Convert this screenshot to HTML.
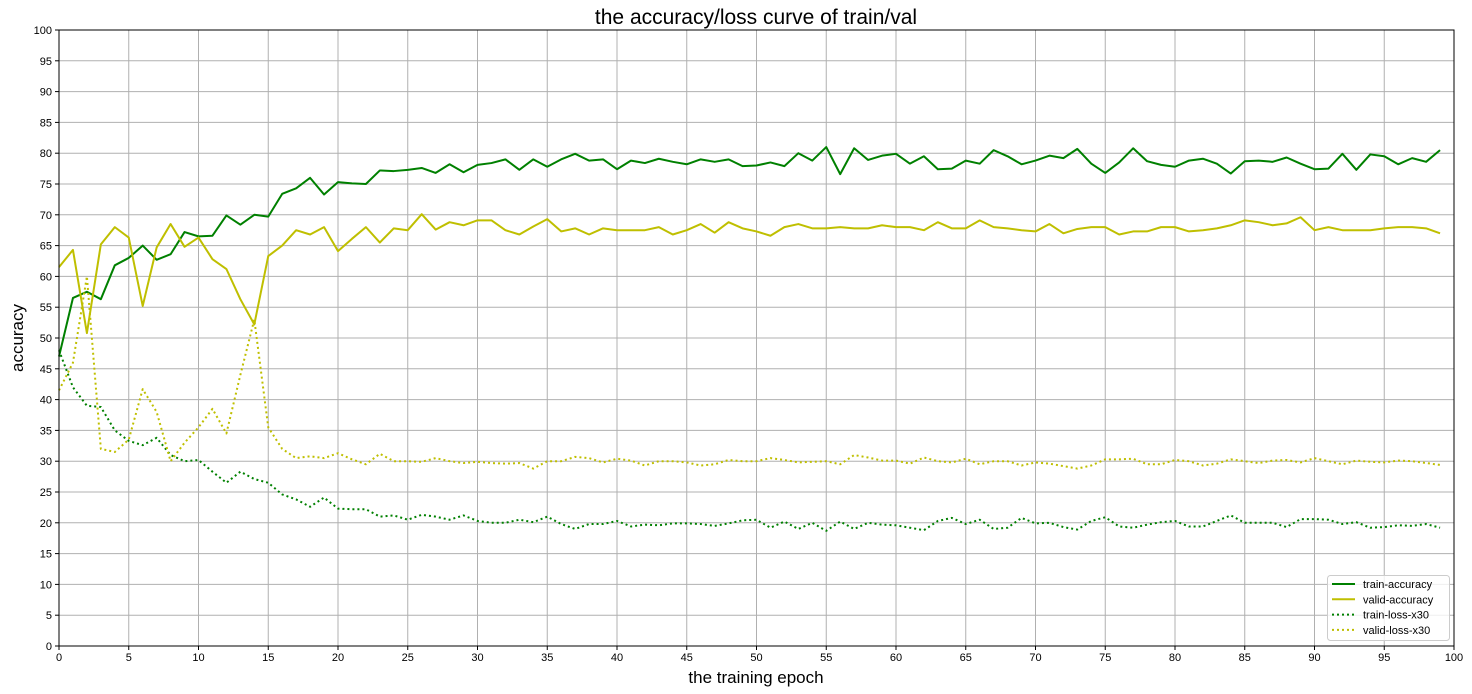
<!DOCTYPE html>
<html><head><meta charset="utf-8"><style>
body{margin:0;background:#fff;}
svg{display:block;font-family:"Liberation Sans","DejaVu Sans",sans-serif;}
</style></head><body>
<svg id="chart" width="1472" height="694">
<text x="756" y="24" font-size="21" text-anchor="middle">the accuracy/loss curve of train/val</text>
<text x="756" y="683" font-size="17" text-anchor="middle">the training epoch</text>
<text transform="translate(23,338) rotate(-90)" font-size="17" text-anchor="middle">accuracy</text>
<g id="grid"></g>
<g id="series"></g>
<rect x="59" y="30" width="1395" height="616" fill="none" stroke="#000" stroke-width="1"/>
<g id="ticks"></g>
<g id="legend"></g>
</svg>
<script>
const epochs = Array.from({length:100},(_,i)=>i);
const trainAcc = [47,56.5,57.5,56.3,61.8,63,65,62.7,63.6,67.2,66.5,66.6,69.9,68.4,70,69.7,73.4,74.3,76,73.3,75.3,75.1,75,77.2,77.1,77.3,77.6,76.8,78.2,76.9,78.1,78.4,79,77.3,79,77.8,79,79.9,78.8,79,77.4,78.8,78.4,79.1,78.6,78.2,79,78.6,79,77.9,78,78.5,77.9,80,78.8,81,76.6,80.8,78.9,79.6,79.9,78.3,79.5,77.4,77.5,78.8,78.3,80.5,79.5,78.2,78.8,79.6,79.2,80.7,78.3,76.8,78.5,80.8,78.7,78.1,77.8,78.8,79.1,78.3,76.7,78.7,78.8,78.6,79.3,78.3,77.4,77.5,79.9,77.3,79.8,79.5,78.2,79.2,78.6,80.5];
const validAcc = [61.5,64.3,50.8,65.2,68,66.3,55.2,64.7,68.5,64.8,66.3,62.8,61.2,56.3,52.2,63.3,65,67.5,66.8,68,64.1,66.1,68,65.5,67.8,67.5,70.1,67.6,68.8,68.3,69.1,69.1,67.5,66.8,68.1,69.3,67.3,67.8,66.8,67.8,67.5,67.5,67.5,68,66.8,67.5,68.5,67.1,68.8,67.8,67.3,66.6,68,68.5,67.8,67.8,68,67.8,67.8,68.3,68,68,67.5,68.8,67.8,67.8,69.1,68,67.8,67.5,67.3,68.5,67,67.7,68,68,66.8,67.3,67.3,68,68,67.3,67.5,67.8,68.3,69.1,68.8,68.3,68.6,69.6,67.5,68,67.5,67.5,67.5,67.8,68,68,67.8,67];
const trainLoss = [48,42,39,38.8,35,33.3,32.6,33.8,31,30,30.2,28.3,26.5,28.3,27.1,26.5,24.6,23.8,22.6,24.1,22.3,22.2,22.2,21,21.2,20.5,21.3,21,20.5,21.2,20.3,20,20,20.5,20.1,21,19.8,19,19.8,19.8,20.3,19.4,19.7,19.6,19.9,19.9,19.8,19.5,19.9,20.4,20.5,19.2,20.2,19,20,18.7,20.2,19,20,19.7,19.6,19.2,18.8,20.3,20.8,19.8,20.5,19,19.2,20.8,19.9,20,19.3,18.9,20.3,20.9,19.4,19.2,19.7,20.1,20.3,19.4,19.4,20.3,21.2,20,20,20,19.3,20.6,20.6,20.5,19.8,20.1,19.2,19.3,19.6,19.5,19.8,19.2];
const validLoss = [41.5,46,60,32,31.5,33.5,41.7,38,30,33,35.5,38.5,34.5,44,53,35.5,32,30.5,30.8,30.5,31.3,30.3,29.5,31.2,30,30,29.9,30.5,30,29.7,29.9,29.7,29.6,29.7,28.8,30,30,30.7,30.5,29.8,30.4,30.1,29.3,30,30,29.8,29.3,29.5,30.2,30,30,30.5,30.2,29.8,29.9,30,29.5,31,30.6,30.1,30.1,29.6,30.6,30,29.8,30.4,29.5,30,30,29.3,29.8,29.6,29.2,28.8,29.3,30.3,30.3,30.4,29.5,29.5,30.2,30,29.3,29.6,30.3,30,29.7,30.1,30.2,29.8,30.5,30,29.5,30.1,29.9,29.8,30.1,30,29.7,29.4];
const xTicks = [0,5,10,15,20,25,30,35,40,45,50,55,60,65,70,75,80,85,90,95,100];
const yTicks = [0,5,10,15,20,25,30,35,40,45,50,55,60,65,70,75,80,85,90,95,100];
const seriesNames = ["train-accuracy","valid-accuracy","train-loss-x30","valid-loss-x30"];

const NS="http://www.w3.org/2000/svg";
const X0=59,X1=1454,Y0=646,Y1=30;
const xs=v=>X0+(v-0)/100*(X1-X0);
const ys=v=>Y0-(v-0)/100*(Y0-Y1);
function mk(tag,attrs,parent){const e=document.createElementNS(NS,tag);for(const k in attrs)e.setAttribute(k,attrs[k]);parent.appendChild(e);return e;}
const grid=document.getElementById('grid'),ticks=document.getElementById('ticks'),ser=document.getElementById('series'),leg=document.getElementById('legend');
xTicks.forEach(t=>{
  const g=mk('line',{x1:xs(t),x2:xs(t),y1:Y1,y2:Y0,stroke:'#b0b0b0','stroke-width':1},grid);
  
  
  mk('line',{x1:xs(t),x2:xs(t),y1:Y0,y2:Y0+4,stroke:'#000'},ticks);
  const tx=mk('text',{x:xs(t),y:Y0+15,'font-size':11,'text-anchor':'middle'},ticks);
  tx.textContent=t;
  
  
});
yTicks.forEach(t=>{
  const g=mk('line',{x1:X0,x2:X1,y1:ys(t),y2:ys(t),stroke:'#b0b0b0','stroke-width':1},grid);
  
  
  mk('line',{x1:X0-4,x2:X0,y1:ys(t),y2:ys(t),stroke:'#000'},ticks);
  const tx=mk('text',{x:X0-7,y:ys(t)+4,'font-size':11,'text-anchor':'end'},ticks);
  tx.textContent=t;
  
  
});
const styles=[['#008000',null],['#bfbf00',null],['#008000','2,3'],['#bfbf00','2,3']];
[trainAcc,validAcc,trainLoss,validLoss].forEach((d,i)=>{
  const p=mk('polyline',{points:d.map((v,j)=>xs(epochs[j])+','+ys(v)).join(' '),fill:'none',stroke:styles[i][0],'stroke-width':2,'stroke-linejoin':'round'},ser);
  if(styles[i][1])p.setAttribute('stroke-dasharray',styles[i][1]);
  
  
});
mk('rect',{x:1327.5,y:575.5,width:122,height:65,rx:3,fill:'#fff','fill-opacity':0.8,stroke:'#ccc'},leg);
seriesNames.forEach((n,i)=>{
  const y=584+i*15.3;
  const l=mk('line',{x1:1332,x2:1355,y1:y,y2:y,stroke:styles[i][0],'stroke-width':2},leg);
  if(styles[i][1])l.setAttribute('stroke-dasharray',styles[i][1]);
  const t=mk('text',{x:1363,y:y+4,'font-size':11},leg);
  t.textContent=n;
  
  
});
</script>
</body></html>
